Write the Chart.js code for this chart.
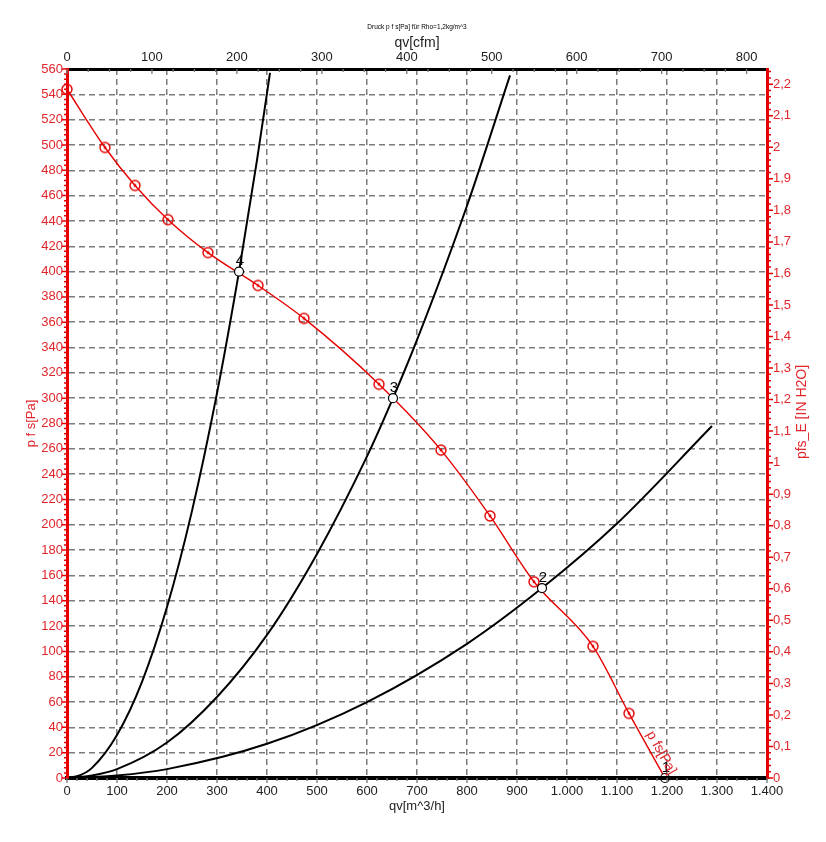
<!DOCTYPE html>
<html>
<head>
<meta charset="utf-8">
<script src="https://cdn.jsdelivr.net/npm/chart.js@4.4.1/dist/chart.umd.min.js"></script>
<style>
  body { margin: 0; background: #fff; }
</style>
</head>
<body>
<canvas id="fanChart" width="826" height="842"></canvas>
<script>
const FONT = '"Liberation Sans", Arial, sans-serif';
const RED = '#e60000';
const RED_TEXT = '#e0262b';
const GRID = '#7c7c7c';

// fan curve p fs [Pa] over qv [m^3/h]
const fanFlow = [0, 76, 136, 202, 282, 382, 474, 624, 748, 846, 934, 1052, 1124, 1196];
const fanPressure = [544, 498, 468, 441, 415, 389, 363, 311, 259, 207, 155, 104, 51, 0];

// operating points 1..4
const opFlow = [1196, 950, 652, 344];
const opPressure = [0, 150, 300, 400];
const opLabels = ['1', '2', '3', '4'];

// system curves through the operating points
const sys4Flow = [0, 25, 50, 100, 150, 200, 250, 300, 344, 380, 406];
const sys4Pressure = [0, 2, 8, 34, 76, 135, 211, 304, 400, 488, 557];
const sys3Flow = [0, 50, 100, 200, 300, 400, 500, 600, 652, 700, 800, 886];
const sys3Pressure = [0, 2, 7, 28, 64, 113, 177, 254, 300, 346, 452, 555];
const sys2Flow = [0, 100, 200, 400, 600, 800, 950, 1100, 1290];
const sys2Pressure = [0, 2, 7, 27, 60, 106, 150, 201, 278];

const PA_PER_INH2O = 249.089;
const M3H_PER_CFM = 1.69901;

function toPoints(xs, ys) {
  return xs.map((v, i) => ({ x: v, y: ys[i] }));
}

function thousands(v) {
  return String(v).replace(/\B(?=(\d{3})+(?!\d))/g, '.');
}

function ringDot() {
  const c = document.createElement('canvas');
  c.width = 14; c.height = 14;
  const g = c.getContext('2d');
  g.strokeStyle = RED; g.lineWidth = 1.4;
  g.beginPath(); g.arc(7, 7, 5, 0, Math.PI * 2); g.stroke();
  g.fillStyle = RED;
  g.beginPath(); g.arc(7, 7, 1.4, 0, Math.PI * 2); g.fill();
  return c;
}
const marker = ringDot();

const extras = {
  id: 'extras',
  afterDraw(chart) {
    const { ctx, chartArea: a, scales } = chart;
    const { x, y, x2, y2 } = scales;
    ctx.save();

    // left axis ticks
    ctx.strokeStyle = RED; ctx.lineWidth = 1.5;
    ctx.beginPath();
    for (let v = 0; v <= 560; v += 4) {
      const py = y.getPixelForValue(v);
      const len = v % 20 === 0 ? 5 : 3;
      ctx.moveTo(a.left - len, py); ctx.lineTo(a.left + 2, py);
    }
    ctx.stroke();

    // right axis ticks
    ctx.beginPath();
    for (let i = 0; i <= 112; i++) {
      const py = y2.getPixelForValue(i * 0.02);
      const len = i % 5 === 0 ? 6 : 4;
      ctx.moveTo(a.right - 1, py); ctx.lineTo(a.right + len, py);
    }
    ctx.stroke();

    // top and bottom ticks
    ctx.strokeStyle = '#777'; ctx.lineWidth = 1.3;
    ctx.beginPath();
    for (let c = 0; c <= 824; c += 25) {
      const px = x2.getPixelForValue(c);
      ctx.moveTo(px, a.top); ctx.lineTo(px, a.top + (c % 100 === 0 ? 5 : 3));
    }
    for (let q = 0; q <= 1400; q += 20) {
      const px = x.getPixelForValue(q);
      ctx.moveTo(px, a.bottom); ctx.lineTo(px, a.bottom + (q % 100 === 0 ? 5 : 3));
    }
    ctx.stroke();

    // operating point numbers
    ctx.fillStyle = '#000';
    ctx.font = '15px ' + FONT;
    ctx.textAlign = 'center';
    ctx.textBaseline = 'bottom';
    opLabels.forEach((t, i) => {
      ctx.fillText(t, x.getPixelForValue(opFlow[i]) + 1, y.getPixelForValue(opPressure[i]) - 3);
    });

    // label along the fan curve
    const n = fanFlow.length;
    const p0 = { x: x.getPixelForValue(fanFlow[n - 2]), y: y.getPixelForValue(fanPressure[n - 2]) };
    const p1 = { x: x.getPixelForValue(fanFlow[n - 1]), y: y.getPixelForValue(fanPressure[n - 1]) };
    const ang = Math.atan2(p1.y - p0.y, p1.x - p0.x);
    ctx.save();
    ctx.translate(p0.x + 0.33 * (p1.x - p0.x), p0.y + 0.33 * (p1.y - p0.y));
    ctx.rotate(ang);
    ctx.fillStyle = RED_TEXT;
    ctx.font = '14px ' + FONT;
    ctx.textAlign = 'left';
    ctx.textBaseline = 'bottom';
    ctx.fillText('p fs[Pa]', 2, -2);
    ctx.restore();

    // right axis title, reading upwards
    ctx.translate(802, 412);
    ctx.rotate(-Math.PI / 2);
    ctx.fillStyle = RED_TEXT;
    ctx.font = '14px ' + FONT;
    ctx.textAlign = 'center';
    ctx.textBaseline = 'middle';
    ctx.fillText('pfs_E [IN H2O]', 0, 0);
    ctx.restore();
  }
};

new Chart(document.getElementById('fanChart'), {
  type: 'scatter',
  data: {
    datasets: [
      {
        data: toPoints(opFlow, opPressure),
        showLine: false,
        pointRadius: 4.5,
        pointBorderWidth: 1.2,
        pointBorderColor: '#000',
        pointBackgroundColor: '#fff',
        clip: false,
      },
      {
        data: toPoints(fanFlow, fanPressure),
        showLine: true,
        borderColor: RED,
        borderWidth: 1.4,
        cubicInterpolationMode: 'monotone',
        pointStyle: marker,
        pointRadius: (c) => (c.dataIndex === fanFlow.length - 1 ? 0 : 5),
        clip: false,
      },
      {
        data: toPoints(sys4Flow, sys4Pressure),
        showLine: true, borderColor: '#000', borderWidth: 2, pointRadius: 0,
        cubicInterpolationMode: 'monotone',
      },
      {
        data: toPoints(sys3Flow, sys3Pressure),
        showLine: true, borderColor: '#000', borderWidth: 2, pointRadius: 0,
        cubicInterpolationMode: 'monotone',
      },
      {
        data: toPoints(sys2Flow, sys2Pressure),
        showLine: true, borderColor: '#000', borderWidth: 2, pointRadius: 0,
        cubicInterpolationMode: 'monotone',
      },
    ],
  },
  options: {
    responsive: false,
    animation: false,
    layout: { padding: 0 },
    plugins: {
      legend: { display: false },
      tooltip: { enabled: false },
      title: {
        display: true,
        fullSize: false,
        text: 'Druck p f s[Pa] für Rho=1,2kg/m^3',
        color: '#000',
        font: { family: FONT, size: 6.5, weight: 'normal', lineHeight: 1 },
        padding: { top: 24, bottom: 0 },
      },
    },
    scales: {
      x: {
        type: 'linear', position: 'bottom', min: 0, max: 1400,
        ticks: {
          stepSize: 100, padding: 6, color: '#222', maxRotation: 0, autoSkip: false,
          font: { family: FONT, size: 13 },
          callback: (v) => thousands(v),
        },
        grid: { color: GRID, lineWidth: 1.5, drawTicks: false },
        border: { color: '#000', width: 4, dash: [6, 4], z: 1 },
        title: {
          display: true, text: 'qv[m^3/h]', color: '#222',
          font: { family: FONT, size: 13 }, padding: { top: 0, bottom: 28 },
        },
        afterFit: (s) => { s.height = 64; },
      },
      x2: {
        type: 'linear', position: 'top', min: 0, max: 1400 / M3H_PER_CFM,
        ticks: {
          stepSize: 100, padding: 4, color: '#222', maxRotation: 0, includeBounds: false,
          font: { family: FONT, size: 13 },
        },
        grid: { drawOnChartArea: false, drawTicks: false },
        border: { color: '#000', width: 3, z: 1 },
        title: {
          display: true, text: 'qv[cfm]', color: '#222',
          font: { family: FONT, size: 14 }, padding: { top: 4.6, bottom: 0 },
        },
        afterFit: (s) => { s.height = 38.5; },
      },
      y: {
        type: 'linear', position: 'left', min: 0, max: 560,
        ticks: { stepSize: 20, padding: 4, color: RED_TEXT, font: { family: FONT, size: 13 } },
        grid: { color: GRID, lineWidth: 1.5, drawTicks: false },
        border: { color: RED, width: 3, dash: [6, 4], z: 1 },
        title: {
          display: true, text: 'p f s[Pa]', color: RED_TEXT,
          font: { family: FONT, size: 13 }, padding: { top: 24, bottom: 0 },
        },
        afterFit: (s) => { s.width = 67; },
      },
      y2: {
        type: 'linear', position: 'right', min: 0, max: 560 / PA_PER_INH2O,
        ticks: {
          stepSize: 0.1, padding: 6, color: RED_TEXT, includeBounds: false,
          font: { family: FONT, size: 13 },
          callback: (v) => String(Math.round(v * 10) / 10).replace('.', ','),
        },
        grid: { drawOnChartArea: false, drawTicks: false },
        border: { color: RED, width: 3, z: 1 },
        afterFit: (s) => { s.width = 59; },
      },
    },
  },
  plugins: [extras],
});
</script>
</body>
</html>
